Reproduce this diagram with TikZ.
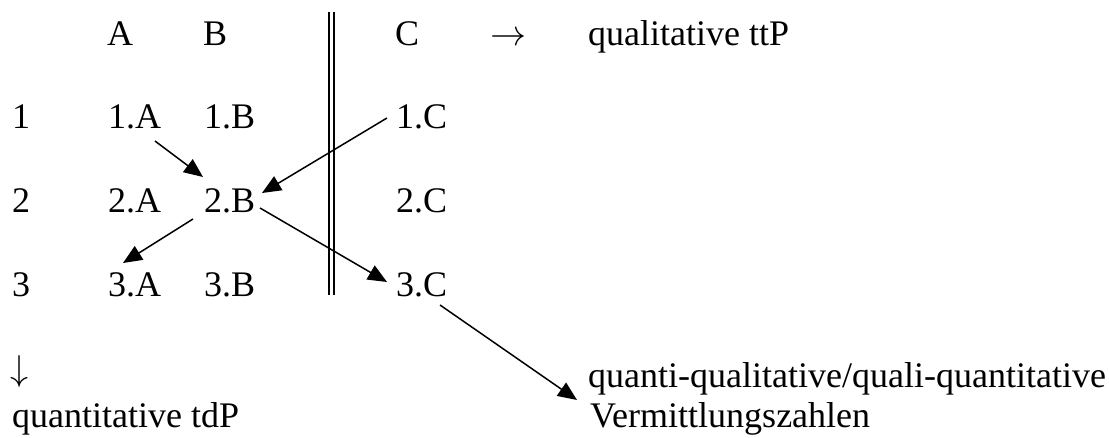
\documentclass[tikz,border=0pt]{standalone}
\usepackage{graphicx}
\usepackage{fontspec}
\setmainfont{Liberation Serif}
\usetikzlibrary{arrows.meta}
\tikzset{
  lbl/.style={anchor=base west, inner sep=0pt, font=\fontsize{36}{40}\selectfont},
  sym/.style={anchor=base west, inner sep=0pt, font=\fontsize{10}{12}\selectfont},
  arr/.style={line width=1.5pt, -{Triangle[length=19pt,width=16pt]}},
  bar/.style={line width=2pt}
}
\begin{document}
\begin{tikzpicture}[x=1pt,y=-1pt]
\useasboundingbox (0,0) rectangle (1109,437);
% headers
\node[lbl] (hA) at (107,45) {A};
\node[lbl] (hB) at (203,45) {B};
\node[lbl] (hC) at (395,45) {C};
\node[sym] (rarr) at (490,45) {\scalebox{3.6}{$\rightarrow$}};
\node[lbl] (ttp) at (588,45) {qualitative ttP};
% rows
\node[lbl] (r1) at (12,128) {1};
\node[lbl] (r2) at (12,212) {2};
\node[lbl] (r3) at (12,296) {3};
\node[lbl] (n1A) at (108,128) {1.A};
\node[lbl] (n1B) at (204,128) {1.B};
\node[lbl] (n1C) at (396,128) {1.C};
\node[lbl] (n2A) at (108,212) {2.A};
\node[lbl] (n2B) at (204,212) {2.B};
\node[lbl] (n2C) at (396,212) {2.C};
\node[lbl] (n3A) at (108,296) {3.A};
\node[lbl] (n3B) at (204,296) {3.B};
\node[lbl] (n3C) at (396,296) {3.C};
% bottom
\node[sym] (darr) at (10,380) {\scalebox{3.6}{$\downarrow$}};
\node[lbl] (tdp) at (12,427) {quantitative tdP};
\node[lbl] (qq) at (588,387) {quanti-qualitative/quali-quantitative};
\node[lbl] (vz) at (590,427) {Vermittlungszahlen};
% double bar
\coordinate (b1t) at (329,12); \coordinate (b1b) at (329,295);
\coordinate (b2t) at (334,12); \coordinate (b2b) at (334,295);
\draw[bar] (b1t) -- (b1b);
\draw[bar] (b2t) -- (b2b);
% arrows
\draw[arr] ([shift={(47,13)}]n1A.base west) -- ([shift={(-1,-35)}]n2B.base west);
\draw[arr] ([shift={(-9,-10)}]n1C.base west) -- ([shift={(58,-19)}]n2B.base west);
\draw[arr] ([shift={(-11,7)}]n2B.base west) -- ([shift={(15,-33)}]n3A.base west);
\draw[arr] ([shift={(56,-4)}]n2B.base west) -- ([shift={(-9,-14)}]n3C.base west);
\draw[arr] ([shift={(44,9)}]n3C.base west) -- ([shift={(-11,13)}]qq.base west);
\end{tikzpicture}
\end{document}
